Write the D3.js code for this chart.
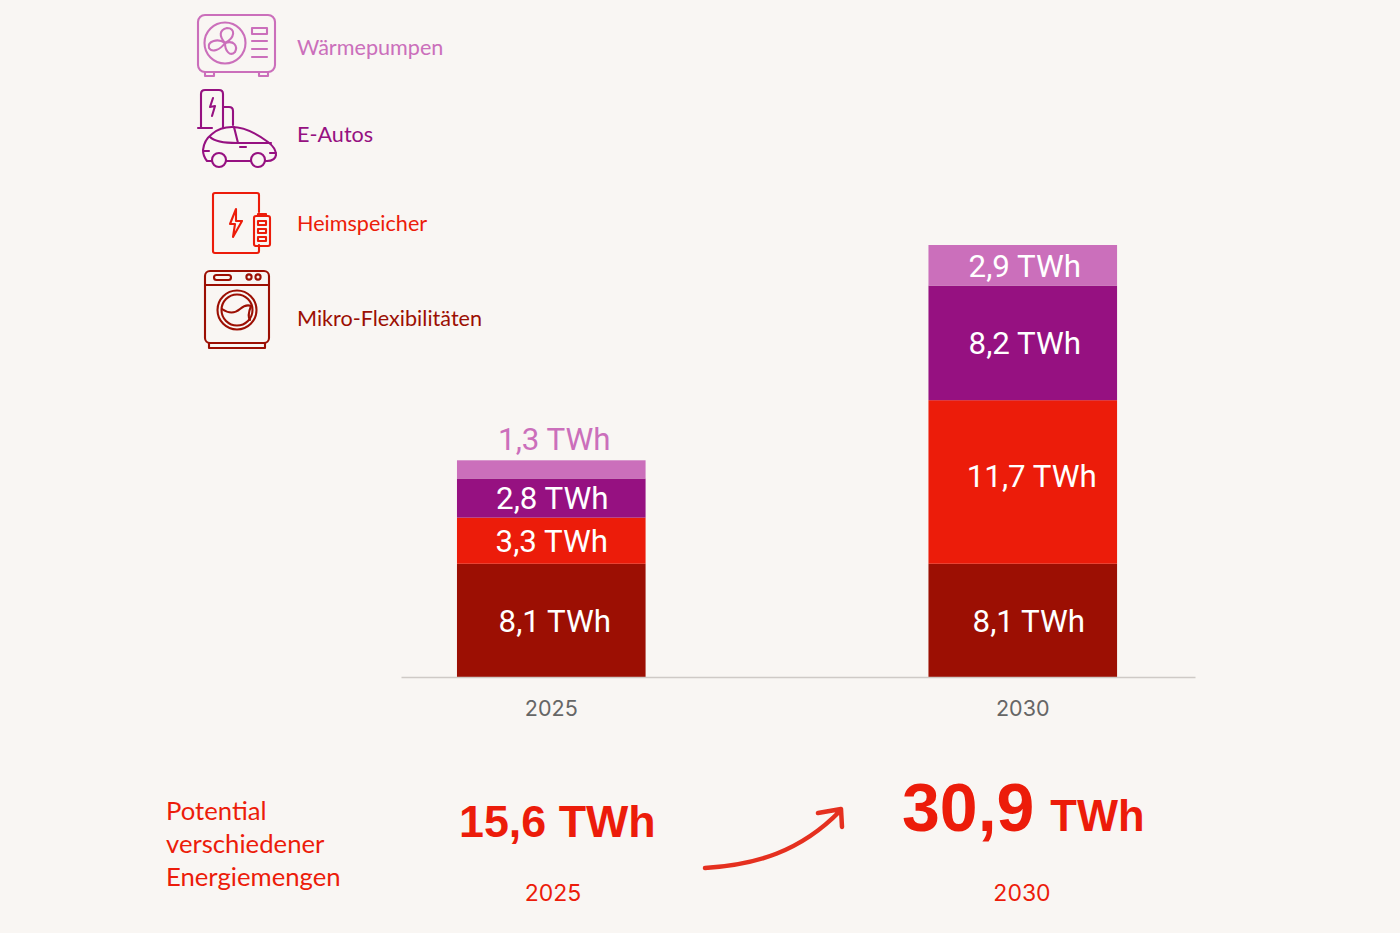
<!DOCTYPE html>
<html><head><meta charset="utf-8">
<script src="https://cdn.jsdelivr.net/npm/d3@7"></script>
<style>html,body{margin:0;padding:0;background:#f9f6f3}svg{display:block}</style>
</head><body><svg id="c" width="1400" height="933"></svg>
<script>
const years = ["2025","2030"];
const seriesNames = ["Mikro-Flexibilitäten","Heimspeicher","E-Autos","Wärmepumpen"];
const mikro = [8.1,8.1];
const heim = [3.3,11.7];
const autos = [2.8,8.2];
const waerme = [1.3,2.9];
const totals = ["15,6","30,9"];
const colors = ["#9c0f03","#ec1c0a","#961181","#cb6fbb"];
const sideTitle = ["Potential","verschiedener","Energiemengen"];

const W=1400,H=933;
const svg=d3.select("#c").attr("viewBox",`0 0 ${W} ${H}`);
svg.append("rect").attr("width",W).attr("height",H).attr("fill","#f9f6f3");
const sans="Inter, Roboto, sans-serif", valueFont="Roboto, sans-serif", boldFont="'Liberation Sans', Arial, sans-serif", legendFont="Lato, 'Noto Sans', sans-serif";

const x=d3.scaleBand().domain(years).range([401,1195]).paddingInner(.6).paddingOuter(.142).align(.418);
const y=d3.scaleLinear().domain([0,30.9]).range([677,245]);
const series=[mikro,heim,autos,waerme];
const fmt=v=>String(v).replace(".",",")+" TWh";

// label nudges from the reference
const dxL=[[3.5,6],[0.5,9],[1,2],[3,2]], dyL=[[0,0],[0,-6],[0,0],[-31,0]];
series.forEach((vals,s)=>{
  vals.forEach((v,i)=>{
    const base=d3.sum(series.slice(0,s),a=>a[i]);
    const yr=years[i];
    svg.append("rect").attr("x",x(yr)).attr("width",x.bandwidth())
      .attr("y",y(base+v)).attr("height",y(base)-y(base+v)).attr("fill",colors[s]);
    svg.append("text").attr("x",x(yr)+x.bandwidth()/2+dxL[s][i])
      .attr("y",(y(base)+y(base+v))/2+dyL[s][i]).attr("dy","0.36em")
      .attr("text-anchor","middle").attr("font-family",valueFont).attr("font-size",31.3)
      .attr("fill",(s==3&&i==0)?colors[3]:"#fff").text(fmt(v));
  });
});

// axis
const axis=d3.axisBottom(x).tickSize(0).tickPadding(23.5);
const gx=svg.append("g").attr("transform","translate(0,677)").call(axis);
gx.select(".domain").attr("stroke","#cfcac6").attr("stroke-width",1.3);
gx.selectAll("text").attr("font-family",sans).attr("font-size",21.5).attr("fill","#666");

// legend
const legendY=[47,134,223,318];
[3,2,1,0].forEach((s,i)=>{
  svg.append("text").attr("x",297).attr("y",legendY[i]).attr("dy","0.35em")
    .attr("font-family",legendFont).attr("font-size",21.6).attr("fill",colors[s]).text(seriesNames[s]);
});

// icons
function icon(col,w=2.1){return svg.append("g").attr("fill","none").attr("stroke",col).attr("stroke-width",w).attr("stroke-linecap","round").attr("stroke-linejoin","round");}
// heat pump
let g=icon(colors[3]);
g.append("rect").attr("x",198).attr("y",15).attr("width",77).attr("height",57).attr("rx",7);
g.append("rect").attr("x",205).attr("y",72).attr("width",9).attr("height",4);
g.append("rect").attr("x",259).attr("y",72).attr("width",9).attr("height",4);
g.append("circle").attr("cx",225).attr("cy",43).attr("r",20.5);
g.append("path").attr("d","M225 43C219 36 219 30 227 28C236 28 235 38 225 43Z");
g.append("path").attr("d","M225 43C234 40 238 46 235 52C230 57 225 51 225 43Z");
g.append("path").attr("d","M225 43C220 50 212 53 209 48C207 41 218 38 225 43Z");
g.append("rect").attr("x",252).attr("y",28).attr("width",15).attr("height",6);
[41,49,57].forEach(v=>g.append("line").attr("x1",252).attr("x2",267).attr("y1",v).attr("y2",v));
// e-car
g=icon(colors[2]);
g.append("path").attr("d","M201 128V94Q201 90 205 90H219Q223 90 223 94V128M198 128H212M223 107H229Q233 107 233 111V125");
g.append("path").attr("d","M213 98L210 107L215 106L212 116");
g.append("path").attr("d","M212 161H207Q203 156 203 150Q204 140 212 134Q220 127 232 127Q248 127 268 142Q276 148 276 155Q275 161 267 161H265M226 161H251");
g.append("path").attr("d","M210 137Q216 143 237 143H271M234 127L238 143");
g.append("circle").attr("cx",219).attr("cy",160).attr("r",7);
g.append("circle").attr("cx",258).attr("cy",160).attr("r",7);
g.append("path").attr("d","M240 147H246M204 151H209M270 153H276");
// storage
g=icon(colors[1]);
g.append("path").attr("d","M259 212V195Q259 193 257 193H215Q213 193 213 195V251Q213 253 215 253H257Q259 253 259 251V245");
g.append("path").attr("d","M236 209L230 224H235L233 237L242 221H236Z");
g.append("rect").attr("x",254).attr("y",216).attr("width",16).attr("height",30).attr("rx",2);
g.append("rect").attr("x",258).attr("y",214).attr("width",8).attr("height",2);
[221,229,237].forEach(v=>g.append("rect").attr("x",258).attr("y",v).attr("width",8).attr("height",4));
// washer
g=icon(colors[0]);
g.append("rect").attr("x",205).attr("y",271).attr("width",64).attr("height",72).attr("rx",5);
g.append("path").attr("d","M205 285H269M209 343V348H265V343");
g.append("rect").attr("x",214).attr("y",275).attr("width",17).attr("height",5).attr("rx",2.5);
g.append("circle").attr("cx",249).attr("cy",277).attr("r",2.6);
g.append("circle").attr("cx",258).attr("cy",277).attr("r",2.6);
g.append("circle").attr("cx",237).attr("cy",310).attr("r",19.5);
g.append("circle").attr("cx",237).attr("cy",310).attr("r",15.5);
g.append("path").attr("d","M222 309Q232 316 240 309Q246 304 251 306Q247 316 250 320");

// bottom
const red=colors[1];
sideTitle.forEach((t,i)=>svg.append("text").attr("x",166).attr("y",[820,853,886][i])
  .attr("font-family",legendFont).attr("font-size",25.7).attr("fill",red).text(t));
svg.append("text").attr("x",459).attr("y",837).attr("font-family",boldFont).attr("font-weight",700)
  .attr("font-size",44.8).attr("fill",red).text(totals[0]+" TWh");
const t2=svg.append("text").attr("x",902).attr("y",831).attr("font-family",boldFont).attr("font-weight",700).attr("fill",red);
t2.append("tspan").attr("font-size",68).text(totals[1]);
t2.append("tspan").attr("font-size",43.5).attr("dx",16).text("TWh");
[553,1022].forEach((p,i)=>svg.append("text").attr("x",p).attr("y",893).attr("dy","0.35em").attr("text-anchor","middle")
  .attr("font-family",sans).attr("font-size",23).attr("fill",red).text(years[i]));
// arrow
svg.append("path").attr("d","M705 868C755 865 800 852 840 811M818 813L841 809L842 827")
 .attr("fill","none").attr("stroke","#e5301f").attr("stroke-width",4.5).attr("stroke-linecap","round").attr("stroke-linejoin","round");
</script></body></html>
